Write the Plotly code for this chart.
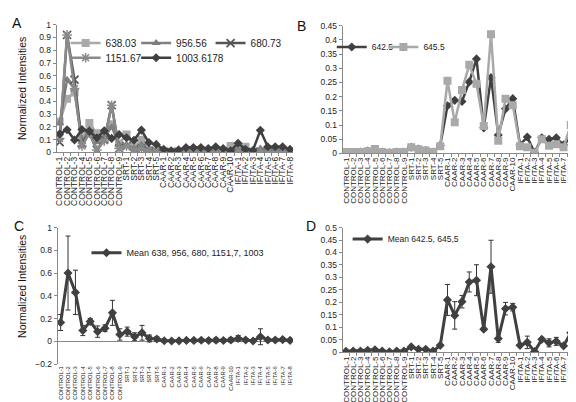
import plotly.graph_objects as go

categories = ["CONTROL-1", "CONTROL-2", "CONTROL-3", "CONTROL-4", "CONTROL-5", "CONTROL-6",
              "CONTROL-7", "CONTROL-8", "CONTROL-9", "SRT-1", "SRT-2", "SRT-3", "SRT-4", "SRT-5",
              "CAAR-1", "CAAR-2", "CAAR-3", "CAAR-4", "CAAR-5", "CAAR-6", "CAAR-7", "CAAR-8",
              "CAAR-9", "CAAR-10", "IF/TA-1", "IF/TA-2", "IF/TA-3", "IF/TA-4", "IF/TA-5",
              "IF/TA-6", "IF/TA-7", "IF/TA-8"]

# Panel A
s638 = [0.24, 0.42, 0.47, 0.10, 0.23, 0.15, 0.13, 0.22, 0.07, 0.14, 0.04, 0.10, 0.02, 0.01,
        0.005, 0.005, 0.005, 0.005, 0.005, 0.005, 0.005, 0.01, 0.01, 0.05, 0.03, 0.045, 0.005,
        0.01, 0.005, 0.005, 0.005, 0.005]
s956 = [0.23, 0.57, 0.50, 0.08, 0.18, 0.08, 0.12, 0.20, 0.06, 0.06, 0.03, 0.06, 0.02, 0.01,
        0.005, 0.005, 0.005, 0.005, 0.005, 0.005, 0.005, 0.005, 0.005, 0.005, 0.02, 0.01, 0.005,
        0.03, 0.01, 0.01, 0.01, 0.005]
s680 = [0.08, 0.92, 0.57, 0.07, 0.15, 0.02, 0.10, 0.37, 0.03, 0.05, 0.02, 0.03, 0.01, 0.005,
        0.003, 0.003, 0.003, 0.003, 0.003, 0.003, 0.003, 0.003, 0.003, 0.003, 0.005, 0.003, 0.003,
        0.003, 0.003, 0.003, 0.003, 0.003]
s1151 = [0.11, 0.92, 0.50, 0.05, 0.15, 0.02, 0.09, 0.37, 0.03, 0.05, 0.02, 0.03, 0.01, 0.005,
         0.003, 0.003, 0.003, 0.003, 0.003, 0.003, 0.003, 0.003, 0.003, 0.003, 0.005, 0.003, 0.003,
         0.003, 0.003, 0.003, 0.003, 0.003]
s1003 = [0.145, 0.178, 0.097, 0.18, 0.165, 0.115, 0.17, 0.11, 0.14, 0.115, 0.095, 0.175, 0.077,
         0.063, 0.025, 0.013, 0.02, 0.038, 0.038, 0.038, 0.03, 0.045, 0.03, 0.013, 0.072, 0.025,
         0.015, 0.173, 0.045, 0.045, 0.045, 0.025]

# Panel B
s642 = [0.003, 0.004, 0.005, 0.008, 0.008, 0.005, 0.002, 0.005, 0.005, 0.022, 0.015, 0.01,
        0.005, 0.028, 0.168, 0.187, 0.183, 0.252, 0.333, 0.09, 0.267, 0.065, 0.157, 0.193,
        0.03, 0.058, 0.003, 0.055, 0.05, 0.055, 0.03, 0.057]
s645 = [0.005, 0.005, 0.005, 0.008, 0.016, 0.005, 0.002, 0.005, 0.005, 0.022, 0.015, 0.01,
        0.005, 0.025, 0.256, 0.11, 0.223, 0.312, 0.245, 0.097, 0.42, 0.045, 0.193, 0.17,
        0.025, 0.022, 0.002, 0.05, 0.027, 0.032, 0.022, 0.1]

# Panel C
meanC = [0.165, 0.60, 0.43, 0.095, 0.175, 0.085, 0.115, 0.25, 0.06, 0.085, 0.04, 0.075, 0.025,
         0.02, 0.005, 0.003, 0.004, 0.008, 0.008, 0.009, 0.007, 0.01, 0.007, 0.012, 0.025,
         0.012, 0.003, 0.04, 0.012, 0.012, 0.015, 0.008]
errC = [0.07, 0.325, 0.195, 0.045, 0.025, 0.05, 0.03, 0.11, 0.05, 0.04, 0.035, 0.065, 0.03,
        0.02, 0.01, 0.005, 0.008, 0.015, 0.015, 0.015, 0.013, 0.018, 0.012, 0.02, 0.025, 0.01,
        0.005, 0.07, 0.015, 0.015, 0.015, 0.01]

# Panel D
meanD = [0.004, 0.005, 0.005, 0.008, 0.01, 0.005, 0.002, 0.005, 0.005, 0.022, 0.012, 0.012,
         0.005, 0.028, 0.21, 0.148, 0.203, 0.282, 0.289, 0.093, 0.343, 0.055, 0.175, 0.181,
         0.028, 0.04, 0.003, 0.052, 0.038, 0.044, 0.026, 0.078]
errD = [0.001, 0.001, 0.001, 0.001, 0.004, 0.001, 0.001, 0.001, 0.001, 0.001, 0.002, 0.001,
        0.001, 0.002, 0.062, 0.055, 0.025, 0.04, 0.062, 0.005, 0.106, 0.015, 0.025, 0.015,
        0.004, 0.025, 0.001, 0.003, 0.016, 0.016, 0.006, 0.03]

FONT = "Liberation Sans"
W, H = 576, 402
DARK = "#404040"

fig = go.Figure()


def add(y, name, xa, ya, color, symbol, size, legend, lw=2.5, mline=None, err=None):
    marker = dict(symbol=symbol, size=size, color=color)
    if mline:
        marker["line"] = dict(color=color, width=mline)
    kw = {}
    if err is not None:
        kw["error_y"] = dict(type="data", array=err, visible=True, color="#333333",
                             thickness=1, width=2.5)
    fig.add_trace(go.Scatter(x=categories, y=y, name=name, mode="lines+markers",
                             xaxis=xa, yaxis=ya, line=dict(color=color, width=lw),
                             marker=marker, legend=legend, showlegend=True, **kw))


add(s638, "638.03", "x", "y", "#a9a9a9", "square", 8, "legend")
add(s956, "956.56", "x", "y", "#7f7f7f", "triangle-up", 8, "legend2")
add(s680, "680.73", "x", "y", "#555555", "x-thin-open", 8, "legend3", mline=1.8)
add(s1151, "1151.67", "x", "y", "#8a8a8a", "asterisk-open", 8, "legend4", mline=1.5)
add(s1003, "1003.6178", "x", "y", DARK, "diamond", 7, "legend5")

add(s642, "642.5", "x2", "y2", DARK, "diamond", 7, "legend6")
add(s645, "645.5", "x2", "y2", "#a9a9a9", "square", 8, "legend7")

add(meanC, "Mean 638, 956, 680, 1151,7, 1003", "x3", "y3", DARK, "diamond", 7, "legend8",
    lw=3, err=errC)
add(meanD, "Mean 642.5, 645,5", "x4", "y4", DARK, "diamond", 7, "legend9", lw=3, err=errD)


def px(v):
    return v / W


def py(v):
    return 1 - v / H


xcommon = dict(type="category", categoryorder="array", categoryarray=categories,
               range=[-0.4, 31.4], tickmode="linear", tick0=0, dtick=1,
               showline=True, linecolor="#888888", linewidth=1,
               ticks="outside", tickson="boundaries", ticklen=3, tickcolor="#888888",
               tickangle=-90, tickfont=dict(family=FONT, size=8.5, color="#222222"),
               showgrid=False, zeroline=False, fixedrange=True)
ycommon = dict(showline=True, linecolor="#888888", linewidth=1, ticks="outside", ticklen=3,
               tickcolor="#888888", tickfont=dict(family=FONT, size=8.5, color="#222222"),
               showgrid=False, zeroline=False, fixedrange=True)


def leg(xl, yt, size):
    return dict(orientation="h", xanchor="left", yanchor="top", bgcolor="rgba(0,0,0,0)",
                itemclick=False, itemdoubleclick=False, x=px(xl), y=py(yt),
                font=dict(family=FONT, size=size, color="#222222"))


fig.update_layout(
    width=W, height=H, margin=dict(l=0, r=0, t=0, b=0),
    paper_bgcolor="white", plot_bgcolor="white", showlegend=True,
    font=dict(family=FONT, color="#222222"),
    xaxis=dict(xcommon, domain=[px(47), px(285)], anchor="y"),
    yaxis=dict(ycommon, domain=[py(143), py(12)], range=[0, 1], dtick=0.1, anchor="x"),
    xaxis2=dict(xcommon, domain=[px(335), px(568)], anchor="y2", range=[-0.45, 31.45],
                tickfont=dict(family=FONT, size=8, color="#222222")),
    yaxis2=dict(ycommon, domain=[py(144), py(13)], range=[0, 0.45], dtick=0.05, anchor="x2"),
    xaxis3=dict(xcommon, domain=[px(48), px(285)], anchor="y3", showline=False, ticks="",
                tickfont=dict(family=FONT, size=5.8, color="#222222")),
    yaxis3=dict(ycommon, domain=[py(360), py(220)], range=[-0.2, 1], dtick=0.2, anchor="x3",
                zeroline=True, zerolinecolor="#888888", zerolinewidth=1),
    xaxis4=dict(xcommon, domain=[px(335), px(568)], anchor="y4", range=[-0.45, 31.45],
                tickfont=dict(family=FONT, size=8, color="#222222")),
    yaxis4=dict(ycommon, domain=[py(348), py(220)], range=[0, 0.5], dtick=0.05, anchor="x4"),
    legend=leg(56, 16, 10),
    legend2=leg(127, 16, 10),
    legend3=leg(202, 16, 10),
    legend4=leg(56, 31, 10),
    legend5=leg(127, 31, 10),
    legend6=leg(324, 20, 8.5),
    legend7=leg(376, 20, 8.5),
    legend8=leg(77, 231, 9),
    legend9=leg(340, 217, 8.5),
)

annotations = [
    dict(text="A", x=px(0), y=py(0), xanchor="left", yanchor="top", font=dict(size=14)),
    dict(text="B", x=px(287), y=py(3), xanchor="left", yanchor="top", font=dict(size=14)),
    dict(text="C", x=px(2), y=py(208), xanchor="left", yanchor="top", font=dict(size=14)),
    dict(text="D", x=px(296), y=py(208), xanchor="left", yanchor="top", font=dict(size=14)),
    dict(text="Normalized Intensities", x=px(12), y=py(77), textangle=-90, xanchor="center",
         yanchor="middle", font=dict(size=10.5)),
    dict(text="Normalized Intensities", x=px(12), y=py(280), textangle=-90, xanchor="center",
         yanchor="middle", font=dict(size=10.5)),
]
for a in annotations:
    a.update(xref="paper", yref="paper", showarrow=False)
    a["font"] = dict(family=FONT, color="#111111", **a["font"])
fig.update_layout(annotations=annotations)

fig.write_html("out.html")
